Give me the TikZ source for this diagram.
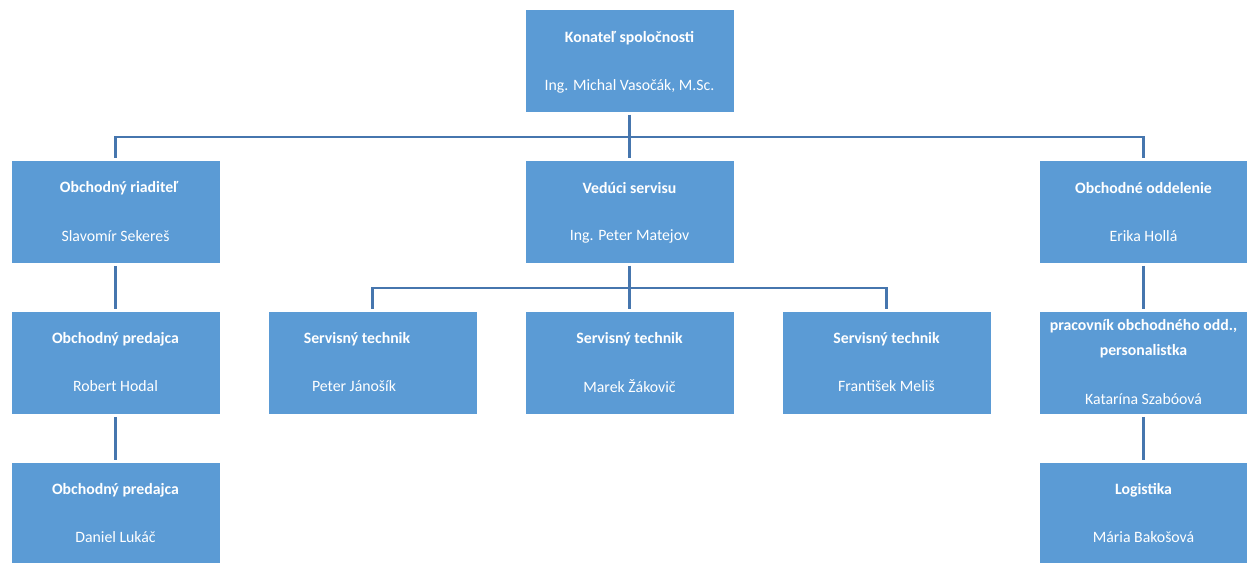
\documentclass[tikz,border=0pt]{standalone}
\usepackage{fontspec}
\setmainfont{Carlito}
\definecolor{boxblue}{HTML}{5B9BD5}
\definecolor{lineblue}{HTML}{4676AE}
\tikzset{
  orgbox/.style={rectangle, fill=boxblue, draw=white, line width=0.8pt, minimum width=209pt, minimum height=103pt, inner sep=0pt, anchor=north},
  ttl/.style={text=white, font=\fontsize{15.8}{18}\selectfont\bfseries, inner sep=0pt, align=center},
  nm/.style={text=white, font=\fontsize{15.8}{18}\selectfont, inner sep=0pt},
  conn/.style={draw=lineblue, line width=2.6pt, shorten <=2pt, shorten >=2pt}
}
\begin{document}
\begin{tikzpicture}[x=1pt,y=-1pt]
\useasboundingbox (0,0) rectangle (1247,562);
\clip (0,0) rectangle (1247,562);
% boxes
\node[orgbox] (ceo) at (629.5,9) {};
\node[orgbox] (or) at (115.5,160) {};
\node[orgbox] (vs) at (629.5,160) {};
\node[orgbox] (oo) at (1143.5,160) {};
\node[orgbox] (op1) at (115.5,311) {};
\node[orgbox] (st1) at (372.5,311) {};
\node[orgbox] (st2) at (629.5,311) {};
\node[orgbox] (st3) at (886.5,311) {};
\node[orgbox] (po) at (1143.5,311) {};
\node[orgbox] (op2) at (115.5,462) {};
\node[orgbox] (lg) at (1143.5,462) {};
% texts
\node[ttl] (ceo-t) at (629.5,38) {Konateľ spoločnosti};
\node[nm] (ceo-n) at (629.5,86) {Ing. Michal Vasočák, M.Sc.};
\node[ttl] (or-t) at (119,188) {Obchodný riaditeľ};
\node[nm] (or-n) at (115.5,236) {Slavomír Sekereš};
\node[ttl] (vs-t) at (629.5,188) {Vedúci servisu};
\node[nm] (vs-n) at (629.5,236) {Ing. Peter Matejov};
\node[ttl] (oo-t) at (1143.5,188) {Obchodné oddelenie};
\node[nm] (oo-n) at (1143.5,236) {Erika Hollá};
\node[ttl] (op1-t) at (115.5,339) {Obchodný predajca};
\node[nm] (op1-n) at (115.5,386) {Robert Hodal};
\node[ttl] (st1-t) at (357,339) {Servisný technik};
\node[nm] (st1-n) at (354,386) {Peter Jánošík};
\node[ttl] (st2-t) at (629.5,339) {Servisný technik};
\node[nm] (st2-n) at (629.5,386) {Marek Žákovič};
\node[ttl] (st3-t) at (886.5,339) {Servisný technik};
\node[nm] (st3-n) at (886.5,386) {František Meliš};
\node[ttl] (po-t1) at (1143.5,326) {pracovník obchodného odd.,};
\node[ttl] (po-t2) at (1143.5,351) {personalistka};
\node[nm] (po-n) at (1143.5,399) {Katarína Szabóová};
\node[ttl] (op2-t) at (115.5,490) {Obchodný predajca};
\node[nm] (op2-n) at (115.5,537) {Daniel Lukáč};
\node[ttl] (lg-t) at (1143.5,490) {Logistika};
\node[nm] (lg-n) at (1143.5,537) {Mária Bakošová};
% connectors
\draw[conn] (ceo.south) -- ++(0,24) -| (or.north);
\draw[conn] (ceo.south) -- (vs.north);
\draw[conn] (ceo.south) -- ++(0,24) -| (oo.north);
\draw[conn] (vs.south) -- ++(0,24) -| (st1.north);
\draw[conn] (vs.south) -- (st2.north);
\draw[conn] (vs.south) -- ++(0,24) -| (st3.north);
\draw[conn] (or.south) -- (op1.north);
\draw[conn] (op1.south) -- (op2.north);
\draw[conn] (oo.south) -- (po.north);
\draw[conn] (po.south) -- (lg.north);
\end{tikzpicture}
\end{document}
